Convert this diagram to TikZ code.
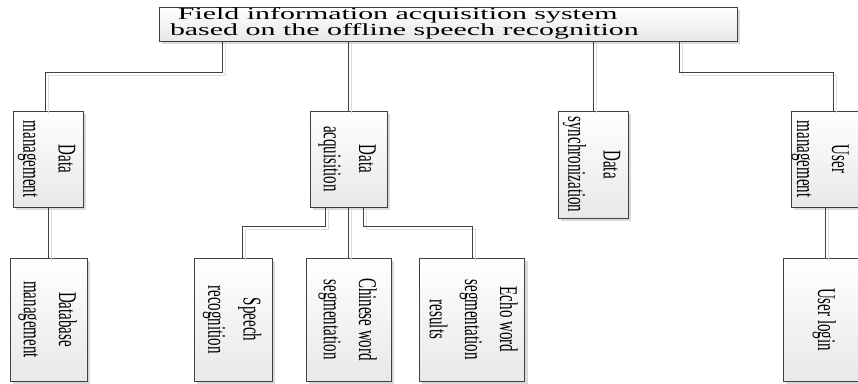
\documentclass[tikz,border=0pt]{standalone}
\usepackage{fontspec}
\setmainfont{Liberation Serif}
\usetikzlibrary{shadows, calc}

\newcommand{\vlabel}[1]{\scalebox{1.7}[1]{\rotatebox{-90}{\fontsize{15}{20.6}\selectfont\begin{tabular}{@{}c@{}}#1\end{tabular}}}}

\begin{document}
\begin{tikzpicture}[x=1pt, y=-1pt,
	box/.style={draw=black!75, line width=0.9pt, top color=white, bottom color=black!9, inner sep=0pt,
		drop shadow={shadow xshift=3pt, shadow yshift=-3pt, fill=black!15, opacity=1}},
	link/.style={draw=black!75, line width=0.9pt,
		preaction={draw=black!13, line width=0.9pt, transform canvas={shift={(3pt,-3pt)}}}}]
			\useasboundingbox (0,0) rectangle (858,383);
			\clip (0,0) rectangle (858,383);
			
			\node[box, minimum width=578pt, minimum height=34pt] (top) at (448,24)
				{\makebox[556pt][l]{\scalebox{1.76}[1]{\fontsize{17}{15.6}\selectfont\begin{tabular}{@{}l@{}}\hspace{4.5pt}Field information acquisition system\\based on the offline speech recognition\end{tabular}}}};
			
			\node[box, minimum width=62pt, minimum height=96pt] (dm) at (48,159) {\vlabel{Data\\management}};
			\node[box, minimum width=77pt, minimum height=96pt] (da) at (348.5,159) {\vlabel{Data\\acquisition}};
			\node[box, minimum width=70pt, minimum height=107pt] (ds) at (593,164.5) {\vlabel{Data\\synchronization}};
			\node[box, minimum width=79pt, minimum height=96pt] (um) at (830.5,159) {\hspace*{-18pt}\vlabel{User\\management}};
			
			\node[box, minimum width=77pt, minimum height=123pt] (db) at (48.5,319.5) {\vlabel{Database\\management}};
			\node[box, minimum width=78pt, minimum height=123pt] (sr) at (233,319.5) {\vlabel{Speech\\recognition}};
			\node[box, minimum width=85pt, minimum height=123pt] (cw) at (348.5,319.5) {\vlabel{Chinese word\\segmentation}};
			\node[box, minimum width=100pt, minimum height=123pt] (ew) at (472,319.5) {\vlabel{Echo word\\segmentation\\results}};
			\node[box, minimum width=84pt, minimum height=123pt] (ul) at (825,319.5) {\vlabel{User login}};
			
			\draw[link] ([xshift=-226pt]top.south) -- ++(0,31) -| ([xshift=-3pt]dm.north);
			\draw[link] (top.south -| da.north) -- (da.north);
			\draw[link] (top.south -| ds.north) -- (ds.north);
			\draw[link] ([xshift=231pt]top.south) -- ++(0,31) -| ([xshift=2.5pt]um.north);
			
			\draw[link] (dm.south) -- (dm.south |- db.north);
			\draw[link] ([xshift=-23.5pt]da.south) -- ++(0,19) -| ([xshift=9pt]sr.north);
			\draw[link] (da.south -| cw.north) -- (cw.north);
			\draw[link] ([xshift=14.5pt]da.south) -- ++(0,19) -| (ew.north);
			\draw[link] (um.south -| ul.north) -- (ul.north);
\end{tikzpicture}
\end{document}
